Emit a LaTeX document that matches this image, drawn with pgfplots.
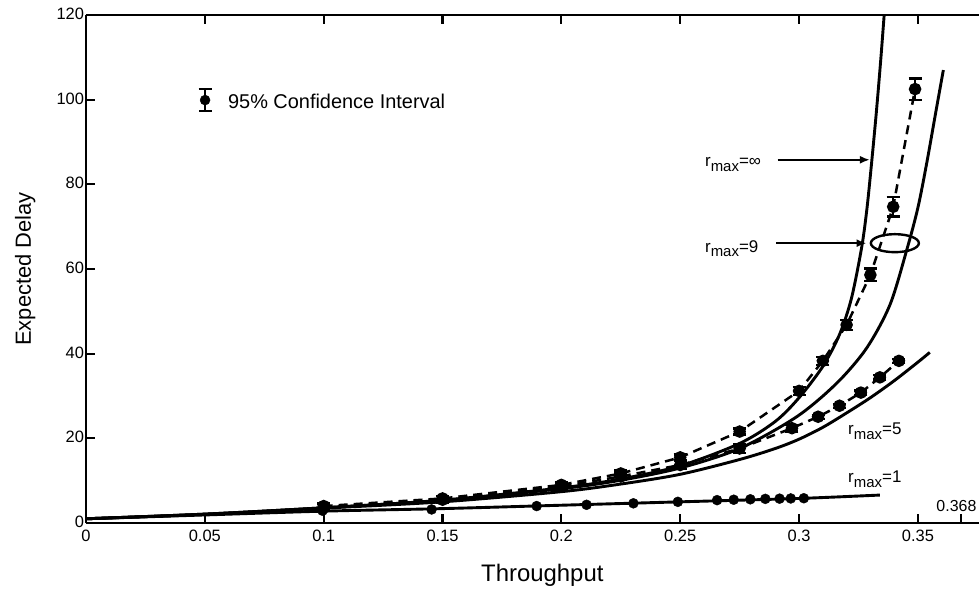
\documentclass[border=0pt]{standalone}
\usepackage{pgfplots}
\pgfplotsset{compat=1.18}
\usepackage{fontspec}
\setmainfont{Liberation Sans}
\usetikzlibrary{arrows.meta}

% font helpers
\newcommand\fs[1]{\fontsize{#1}{#1}\selectfont}
\newcommand\rmax[1]{r\raisebox{-0.5ex}{\fs{15}max}#1}

\pgfplotsset{
  ci/.style={
    error bars/.cd, y dir=both, y explicit,
    error bar style={line width=2.2bp, solid},
    error mark options={rotate=90, mark size=6.5bp, line width=2.2bp, solid}},
}

\begin{document}
\begin{tikzpicture}
\begin{axis}[
  scale only axis, width=893bp, height=508bp,
  xmin=0, xmax=0.3757, ymin=0, ymax=120,
  axis x line*=box, axis y line*=left,
  axis line style={line width=2.6bp, black},
  tick align=inside, major tick length=9bp,
  tick style={line width=2.2bp, black},
  xtick={0,0.05,0.1,0.15,0.2,0.25,0.3,0.35},
  xticklabels={0,0.05,0.1,0.15,0.2,0.25,0.3,0.35},
  ytick={0,20,40,60,80,100,120},
  yticklabels={0,20,40,60,80,100,120},
  tick label style={font=\fs{16.5}},
  xticklabel style={yshift=-3.5bp},
  yticklabel style={xshift=1.5bp, yshift=1bp},
  every axis x label/.style={at={(axis description cs:0.511,-0.102)}, anchor=center},
  every axis y label/.style={at={(axis description cs:-0.068,0.5)}, rotate=90, anchor=center},
  xlabel style={font=\fs{24}}, ylabel style={font=\fs{22}},
  xlabel={Throughput}, ylabel={Expected Delay},
  clip=true,
]

% analytic curves
\addplot[black, line width=2.9bp, smooth] coordinates {
 (0,1.0) (0.05,2.1) (0.1,3.6) (0.15,5.4) (0.2,8.3) (0.225,10.4) (0.25,13.5)
 (0.275,18.8) (0.29,24.0) (0.3,29.6) (0.31,37.0) (0.317,44.5) (0.322,53.0)
 (0.3263,65.0) (0.3285,74.0) (0.3305,85.0) (0.3325,97.0) (0.3343,109.0) (0.3358,120.0)};
\addplot[black, line width=2.9bp, smooth] coordinates {
 (0,1.0) (0.05,2.1) (0.1,3.6) (0.15,5.35) (0.2,8.1) (0.225,10.1) (0.25,13.0)
 (0.275,17.6) (0.299,25.1) (0.3158,33.0) (0.3284,41.3) (0.3382,51.5)
 (0.3453,64.5) (0.35,74.5) (0.3537,85.0) (0.3575,97.0) (0.3607,107.0)};
\addplot[black, line width=2.9bp, smooth] coordinates {
 (0,1.0) (0.05,2.05) (0.1,3.5) (0.15,5.0) (0.2,7.4) (0.225,9.2) (0.25,11.5)
 (0.275,15.0) (0.29,17.6) (0.3,19.8) (0.31,22.6) (0.32,26.0) (0.33,29.6)
 (0.34,33.6) (0.35,38.0) (0.355,40.3)};
\addplot[black, line width=2.9bp, smooth] coordinates {
 (0,1.0) (0.05,1.9) (0.1,2.8) (0.15,3.4) (0.2,4.2) (0.25,5.0) (0.3,5.8) (0.334,6.6)};

% simulation, r_max = 1
\addplot[black, only marks, mark=*, mark size=5bp] coordinates {
 (0.0995,2.9) (0.1454,3.2) (0.1896,4.0) (0.2106,4.3) (0.2303,4.65) (0.249,5.0)
 (0.2655,5.4) (0.2725,5.5) (0.2795,5.6) (0.2858,5.7) (0.2918,5.75) (0.2965,5.8) (0.302,5.85)};

% simulation with confidence intervals
\addplot[black, line width=2.5bp, dash pattern=on 9bp off 6bp,
  mark=*, mark size=5bp, mark options={solid}, ci]
 coordinates {
 (0.1,3.6) +- (0,0.8) (0.15,5.5) +- (0,0.8) (0.2,8.6) +- (0,0.8) (0.225,11.0) +- (0,0.8)
 (0.25,13.7) +- (0,1.0) (0.275,17.6) +- (0,1.0) (0.297,22.4) +- (0,0.8)
 (0.308,25.1) +- (0,0.5) (0.317,27.7) +- (0,0.5) (0.326,30.8) +- (0,0.5)
 (0.334,34.4) +- (0,0.5) (0.342,38.3) +- (0,0.5)};
\addplot[black, line width=2.5bp, dash pattern=on 9bp off 6bp,
  mark=*, mark size=5bp, mark options={solid}, ci]
 coordinates {
 (0.1,4.0) +- (0,0.6) (0.15,5.8) +- (0,0.6) (0.2,9.0) +- (0,0.7) (0.225,11.7) +- (0,0.7)
 (0.25,15.5) +- (0,0.7) (0.275,21.6) +- (0,0.7) (0.3,31.2) +- (0,0.9) (0.31,38.3) +- (0,1.0)
 (0.32,46.8) +- (0,1.2) (0.33,58.6) +- (0,1.5) (0.3396,74.7) +- (0,2.3) (0.3488,102.5) +- (0,2.5)};

% key for the interval marker
\addplot[black, only marks, mark=*, mark size=5bp, ci]
 coordinates {(0.0501,99.9) +- (0,2.65)};
\node[anchor=base west, font=\fs{20}, inner sep=0pt] at (axis cs:0.0597,98.0) {95\% Confidence Interval};

% curve annotations
\node[anchor=base west, font=\fs{17}, inner sep=0pt] at (axis cs:0.2604,84.1) {\rmax{=∞}};
\draw[line width=2.4bp, -{Latex[length=10bp,width=8bp]}] (axis cs:0.291,85.8) -- (axis cs:0.3298,85.8);
\node[anchor=base west, font=\fs{17}, inner sep=0pt] at (axis cs:0.2604,64.0) {\rmax{=9}};
\draw[line width=2.4bp, -{Latex[length=10bp,width=8bp]}] (axis cs:0.2905,66.1) -- (axis cs:0.3284,66.1);
\draw[line width=2.4bp] (axis cs:0.3403,66.1) ellipse [x radius=24bp, y radius=9bp];
\node[anchor=base west, font=\fs{17}, inner sep=0pt] at (axis cs:0.3206,20.8) {\rmax{=5}};
\node[anchor=base west, font=\fs{17}, inner sep=0pt] at (axis cs:0.3206,9.45) {\rmax{=1}};
\node[anchor=base, font=\fs{16}, inner sep=0pt] at (axis cs:0.3662,2.6) {0.368};
\draw[line width=2.2bp] (axis cs:0.368,0) -- ++(0,9bp);

\coordinate (bl) at (rel axis cs:0,0);
\coordinate (tr) at (rel axis cs:1,1);
\end{axis}
\pgfresetboundingbox
\path ([shift={(-86bp,-66bp)}]bl) rectangle ([shift={(0bp,15bp)}]tr);
\end{tikzpicture}
\end{document}
